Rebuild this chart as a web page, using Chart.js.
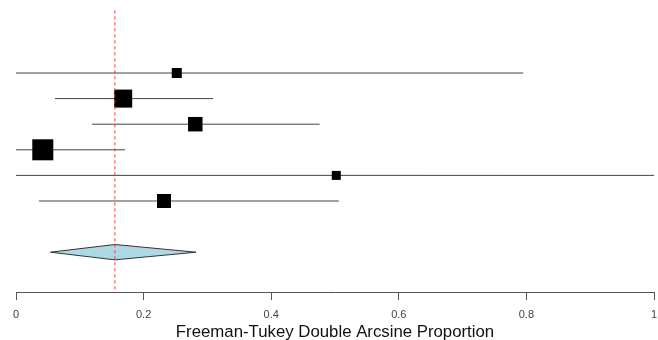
<!DOCTYPE html>
<html>
<head>
<meta charset="utf-8">
<script src="https://cdn.jsdelivr.net/npm/chart.js@4/dist/chart.umd.min.js"></script>
<style>
  html, body { margin: 0; padding: 0; background: #fff; overflow: hidden; }
  canvas { display: block; }
</style>
</head>
<body>
<canvas id="forest" width="658" height="340"></canvas>
<script>
// study estimates (Freeman-Tukey double arcsine proportion)
const studyRows = [1, 2, 3, 4, 5, 6];
const estimates = [0.252, 0.168, 0.281, 0.042, 0.502, 0.232];
const lowerCI = [0.0, 0.061, 0.119, 0.0, 0.0, 0.036];
const upperCI = [0.795, 0.309, 0.476, 0.171, 1.0, 0.506];
const weights = [7.4, 24.0, 15.5, 32.6, 6.0, 14.5];

// pooled estimate
const pooledRow = 8;
const pooled = [0.054, 0.155, 0.282]; // lower, estimate, upper

const xTickValues = [0, 0.2, 0.4, 0.6, 0.8, 1];
const xTickLabels = ['0', '0.2', '0.4', '0.6', '0.8', '1'];

const Y_MIN = -1.852, Y_MAX = 9.555;
const DIAMOND_HALF = 0.3;

const datasets = [];

// red dashed line at pooled estimate
datasets.push({
  data: [{ x: pooled[1], y: -1.45 }, { x: pooled[1], y: Y_MAX }],
  showLine: true,
  borderColor: '#e8363a',
  borderWidth: 1,
  borderDash: [3, 3],
  pointRadius: 0,
});

// squares sized by weight
datasets.push({
  data: studyRows.map((r, i) => ({ x: estimates[i], y: r })),
  pointStyle: 'rect',
  pointRadius: weights.map(w => 3.68 * Math.sqrt(w) / Math.SQRT2),
  backgroundColor: '#000',
  borderColor: '#000',
  borderWidth: 0,
});

// pooled diamond
datasets.push({
  data: [
    { x: pooled[0], y: pooledRow },
    { x: pooled[1], y: pooledRow - DIAMOND_HALF },
    { x: pooled[2], y: pooledRow },
    { x: pooled[1], y: pooledRow + DIAMOND_HALF },
    { x: pooled[0], y: pooledRow },
  ],
  showLine: true,
  fill: 'shape',
  backgroundColor: '#add8e6',
  borderColor: '#333',
  borderWidth: 1,
  pointRadius: 0,
});

// confidence interval lines
studyRows.forEach((r, i) => {
  datasets.push({
    data: [{ x: lowerCI[i], y: r }, { x: upperCI[i], y: r }],
    showLine: true,
    borderColor: '#444',
    borderWidth: 1,
    pointRadius: 0,
  });
});

new Chart(document.getElementById('forest').getContext('2d'), {
  type: 'scatter',
  data: { datasets },
  options: {
    responsive: false,
    animation: false,
    events: [],
    layout: { autoPadding: false, padding: { left: 16, right: 4, top: 0, bottom: 0 } },
    plugins: {
      legend: { display: false },
      tooltip: { enabled: false },
    },
    scales: {
      x: {
        type: 'linear',
        min: 0,
        max: 1,
        afterBuildTicks: axis => {
          axis.ticks = xTickValues.map(v => ({ value: v }));
        },
        afterFit: axis => {
          // keep the plot edge at the axis ends, fixed axis band height
          axis.paddingLeft = 0;
          axis.paddingRight = 0;
          axis.height = 48;
        },
        ticks: {
          padding: 8,
          color: '#444',
          font: { family: 'Liberation Sans, Arial, sans-serif', size: 11 },
          callback: (v) => xTickLabels[xTickValues.indexOf(v)] ?? '',
        },
        grid: {
          drawOnChartArea: false,
          drawTicks: true,
          tickLength: 8,
          color: '#555',
        },
        border: { display: true, color: '#555', width: 1 },
        title: {
          display: true,
          text: 'Freeman-Tukey Double Arcsine Proportion',
          color: '#111',
          font: { family: 'Liberation Sans, Arial, sans-serif', size: 16.8 },
          padding: { top: 0, bottom: -2.5 },
        },
      },
      y: {
        type: 'linear',
        display: false,
        reverse: true,
        min: Y_MIN,
        max: Y_MAX,
      },
    },
  },
});
</script>
</body>
</html>
